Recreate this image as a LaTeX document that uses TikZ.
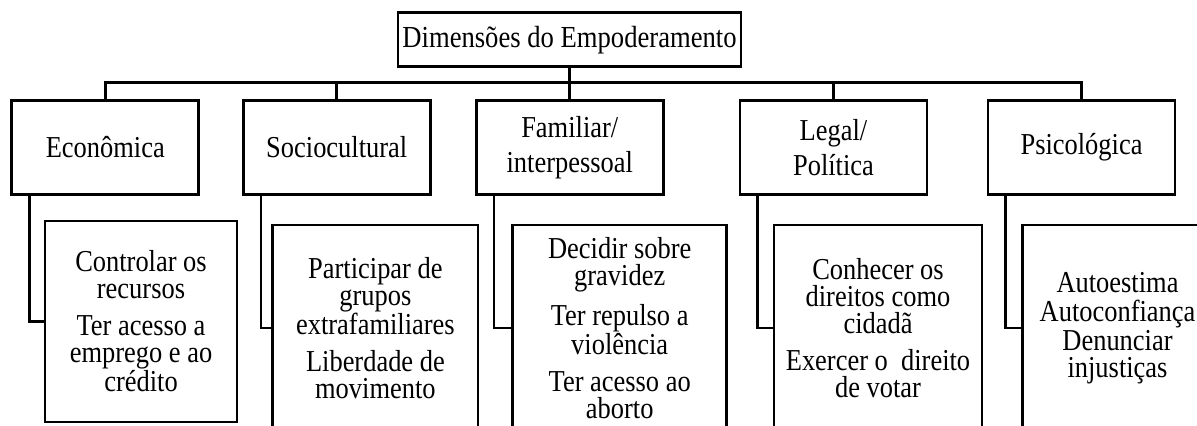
\documentclass[tikz,border=0pt]{standalone}
\usepackage{fontspec}
\setmainfont{Liberation Serif}[FakeStretch=0.87]
\usetikzlibrary{positioning}

\begin{document}
\begin{tikzpicture}[x=0.5pt,y=-0.5pt,line width=1.3pt]
            \tikzset{
                rootbox/.style={draw,inner sep=0pt,minimum width=171.5pt,minimum height=27pt,font=\fontsize{15.3}{15}\selectfont},
                dimbox/.style={draw,align=center,inner sep=0pt,minimum width=93.5pt,minimum height=46.8pt,font=\fontsize{15.2}{17.5}\selectfont},
                listbox/.style={draw,align=center,inner sep=0pt,minimum height=103pt,font=\fontsize{15.2}{13.4}\selectfont},}
            \useasboundingbox (0,0) rectangle (1197,425);
            \clip (0,0) rectangle (1197,425);
            \node[rootbox] (emp) at (569.5,39.7) {Dimensões do Empoderamento};
            \node[dimbox] (eco) at (105.25,147.5) {Econômica};
            \node[dimbox] (soc) at (336.75,147.5) {Sociocultural};
            \node[dimbox] (fam) at (569.75,147.5) {Familiar/\\interpessoal};
            \node[dimbox] (leg) at (833.5,147.5) {Legal/\\Política};
            \node[dimbox] (psi) at (1081.5,147.5) {Psicológica};
            % lists below each dimension
            \node[listbox,minimum width=96pt,minimum height=100.5pt] (leco) at (141,321.5) {Controlar os\\recursos\\[5pt]Ter acesso a\\emprego e ao\\crédito};
            \node[listbox,minimum width=102.7pt] (lsoc) at (375.4,328) {Participar de\\grupos\\extrafamiliares\\[5pt]Liberdade de\\movimento};
            \node[listbox,minimum width=107pt] (lfam) at (619.7,328) {Decidir sobre\\gravidez\\[5pt]Ter repulso a\\violência\\[5pt]Ter acesso ao\\aborto};
            \node[listbox,minimum width=104pt] (lleg) at (878,328) {Conhecer os\\direitos como\\cidadã\\[5pt]Exercer o\ \ direito\\de votar};
            \node[listbox,minimum width=95pt] (lpsi) at (1117.5,328) {Autoestima\\[1pt]Autoconfiança\\[1pt]Denunciar\\injustiças};
            \foreach \dimname in {eco,soc,fam,leg,psi}{
                \draw (emp.south) -- ++(0,14.3) -| (\dimname.north);
                \draw ([xshift=9.5pt]\dimname.south west) |- (l\dimname.west);
            }
        \end{tikzpicture}
\end{document}
